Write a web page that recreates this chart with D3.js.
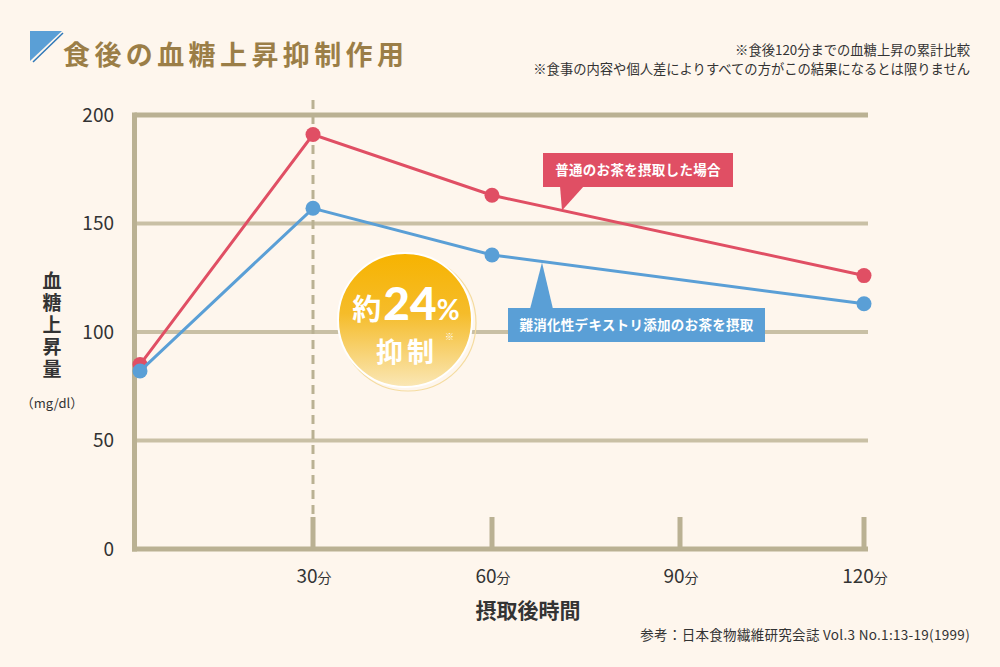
<!DOCTYPE html>
<html><head><meta charset="utf-8">
<script src="https://cdn.jsdelivr.net/npm/d3@7"></script>
<style>
html,body{margin:0;padding:0;background:#fef6ed;}
svg{display:block;font-family:"Noto Sans CJK JP","Noto Sans",sans-serif;}
</style></head>
<body><svg id="c" width="1000" height="667"></svg>
<script>
// ---- data ----
const times = [0, 30, 60, 120];
const normalTea = [85, 191, 163, 126];
const dextrinTea = [82, 157, 135.5, 113];
const yTicks = [0, 50, 100, 150, 200];
const xTicks = [30, 60, 90, 120];
const xTickLabels = ["30", "60", "90", "120"];
const xUnit = "分";
const titleText = "食後の血糖上昇抑制作用";
const notes = ["※食後120分までの血糖上昇の累計比較", "※食事の内容や個人差によりすべての方がこの結果になるとは限りません"];
const yTitle = "血糖上昇量";
const yUnit = "（mg/dl）";
const xTitle = "摂取後時間";
const source = "参考：日本食物繊維研究会誌 Vol.3 No.1:13-19(1999)";
const labelNormal = "普通のお茶を摂取した場合";
const labelDextrin = "難消化性デキストリ添加のお茶を摂取";

const svg = d3.select("#c");
const axisCol = "#bab193", gridCol = "#c9c0a5";
const red = "#e04f64", blue = "#5a9fd6";

svg.append("rect").attr("width",1000).attr("height",667).attr("fill","#fef6ed");

const x = d3.scaleLinear().domain([0,30,60,90,120]).range([140,313,492,680,864]);
const y = d3.scaleLinear().domain([0,200]).range([549,115]);
const axisX = 134.5, rightX = 868;

// title
const tg = svg.append("g");
tg.append("path").attr("d","M30,31 L62,31 L30,61 Z").attr("fill","#5a9fd6");
tg.append("line").attr("x1",63).attr("y1",33).attr("x2",33).attr("y2",62).attr("stroke","#2f78b8").attr("stroke-width",1.5);
tg.append("text").attr("x",63).attr("y",65).attr("font-size",27).attr("font-weight",700)
  .attr("letter-spacing",4.4).attr("fill","#9b7e47").text(titleText);

// notes
svg.selectAll("text.note").data(notes).enter().append("text").attr("class","note")
  .attr("x",970).attr("y",(d,i)=>55+i*18.5).attr("text-anchor","end")
  .attr("font-size",13.3).attr("fill","#333").text(d=>d);

// gridlines
svg.selectAll("line.grid").data(yTicks.filter(d=>d>0)).enter().append("line").attr("class","grid")
  .attr("x1",axisX).attr("x2",rightX).attr("y1",d=>y(d)).attr("y2",d=>y(d))
  .attr("stroke",d=>d===200?axisCol:gridCol).attr("stroke-width",d=>d===200?5:4);

// dashed 30 min line
svg.append("line").attr("x1",x(30)).attr("x2",x(30)).attr("y1",100).attr("y2",517)
  .attr("stroke",axisCol).attr("stroke-width",3).attr("stroke-dasharray","9,6");

// tick marks
svg.selectAll("line.tick").data(xTicks).enter().append("line").attr("class","tick")
  .attr("x1",d=>x(d)).attr("x2",d=>x(d)).attr("y1",517).attr("y2",549)
  .attr("stroke",axisCol).attr("stroke-width",5);

// axes
svg.append("line").attr("x1",axisX).attr("x2",axisX).attr("y1",112.5).attr("y2",551.5).attr("stroke",axisCol).attr("stroke-width",5);
svg.append("line").attr("x1",132).attr("x2",rightX).attr("y1",549).attr("y2",549).attr("stroke",axisCol).attr("stroke-width",5);

// y tick labels
svg.selectAll("text.ylab").data(yTicks).enter().append("text").attr("class","ylab")
  .attr("x",114).attr("y",d=>y(d)).attr("dy","0.36em").attr("text-anchor","end")
  .attr("font-size",19).attr("fill","#333").text(d=>d);

// x tick labels
const xl = svg.selectAll("text.xlab").data(xTicks).enter().append("text").attr("class","xlab")
  .attr("x",d=>x(d)+1).attr("y",583).attr("text-anchor","middle").attr("fill","#333");
xl.append("tspan").attr("font-size",19).text((d,i)=>xTickLabels[i]);
xl.append("tspan").attr("font-size",14).text(xUnit);

// axis titles
svg.append("text").attr("x",52).attr("y",326).attr("text-anchor","middle")
  .attr("writing-mode","vertical-rl").attr("letter-spacing",3)
  .attr("font-size",19).attr("font-weight",700).attr("fill","#333").text(yTitle);
svg.append("text").attr("x",52).attr("y",403).attr("dy","0.36em").attr("text-anchor","middle")
  .attr("font-size",13).attr("fill","#333").text(yUnit);
svg.append("text").attr("x",528).attr("y",618).attr("text-anchor","middle")
  .attr("font-size",21).attr("font-weight",700).attr("fill","#333").text(xTitle);
svg.append("text").attr("x",970).attr("y",640).attr("text-anchor","end")
  .attr("font-size",13.5).attr("letter-spacing",0.3).attr("fill","#333").text(source);

// series
const series = [{v:normalTea,c:red},{v:dextrinTea,c:blue}];
const line = d3.line().x(d=>x(d[0])).y(d=>y(d[1]));
series.forEach(s=>{
  const pts = times.map((t,i)=>[t,s.v[i]]);
  svg.append("path").attr("d",line(pts)).attr("fill","none").attr("stroke",s.c).attr("stroke-width",3);
  svg.selectAll(null).data(pts).enter().append("circle")
    .attr("cx",d=>x(d[0])).attr("cy",d=>y(d[1])).attr("r",7.5).attr("fill",s.c);
});

// callouts
function callout(text, rx, ry, rw, rh, col, tip, base1, base2, baseY){
  const g = svg.append("g");
  g.append("path").attr("d",`M${base1},${baseY} L${tip[0]},${tip[1]} L${base2},${baseY} Z`).attr("fill",col);
  g.append("rect").attr("x",rx).attr("y",ry).attr("width",rw).attr("height",rh).attr("fill",col);
  g.append("text").attr("x",rx+rw/2).attr("y",ry+rh/2).attr("dy","0.36em").attr("text-anchor","middle")
    .attr("font-size",13.5).attr("font-weight",700).attr("fill","#fff").attr("letter-spacing",0.3).text(text);
}
const tipRX = 562;
const tipRY = y(d3.scaleLinear().domain([x(60),x(120)]).range([normalTea[2],normalTea[3]])(tipRX));
callout(labelNormal, 543, 153, 190, 34, red, [tipRX, tipRY], 560, 584, 186);
const tipBX = 542;
const tipBY = y(d3.scaleLinear().domain([x(60),x(120)]).range([dextrinTea[2],dextrinTea[3]])(tipBX)) + 1;
callout(labelDextrin, 508, 308, 257, 34, blue, [tipBX, tipBY], 530, 553, 309);

// badge
const defs = svg.append("defs");
const gr = defs.append("linearGradient").attr("id","bg").attr("x1",0).attr("y1",0).attr("x2",0).attr("y2",1);
gr.append("stop").attr("offset","0%").attr("stop-color","#f7b300");
gr.append("stop").attr("offset","45%").attr("stop-color","#f5bc2a");
gr.append("stop").attr("offset","100%").attr("stop-color","#fae7b6");
const cx = 405, cy = 320;
svg.append("circle").attr("cx",cx+3).attr("cy",cy+3).attr("r",68).attr("fill","none").attr("stroke","#f5dca0").attr("stroke-width",1.2);
svg.append("circle").attr("cx",cx).attr("cy",cy).attr("r",67).attr("fill","url(#bg)").attr("stroke","#fff").attr("stroke-width",2);
const t1 = svg.append("text").attr("x",cx+1).attr("y",320).attr("text-anchor","middle").attr("fill","#fff").attr("font-weight",700);
t1.append("tspan").attr("font-size",29).text("約");
t1.append("tspan").attr("font-size",46).attr("dx",2).attr("font-family","Lato, 'Noto Sans', sans-serif").attr("font-weight",900).text("24");
t1.append("tspan").attr("font-size",28).attr("font-family","Lato, 'Noto Sans', sans-serif").text("%");
svg.append("text").attr("x",cx+2).attr("y",362).attr("text-anchor","middle").attr("fill","#fff")
  .attr("font-weight",700).attr("font-size",27).attr("letter-spacing",4).text("抑制");
svg.append("text").attr("x",445).attr("y",340).attr("fill","#fff")
  .attr("font-size",9).text("※");
</script></body></html>
